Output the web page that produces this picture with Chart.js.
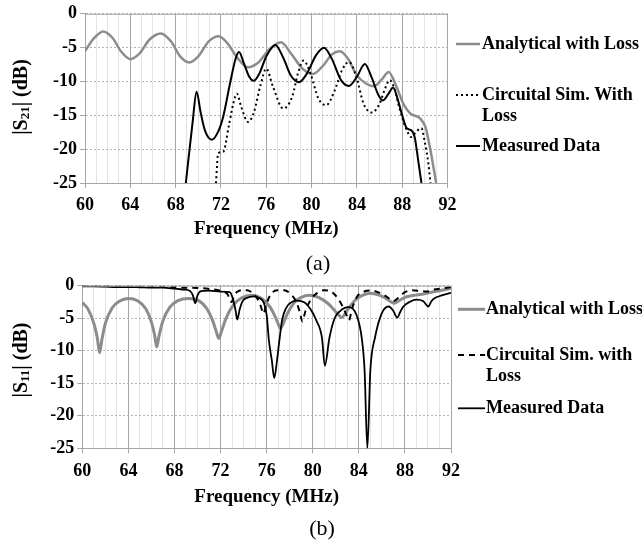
<!DOCTYPE html>
<html>
<head>
<meta charset="utf-8">
<title>|S21| and |S11| vs frequency</title>
<script src="https://cdn.jsdelivr.net/npm/chart.js@4.4.1/dist/chart.umd.min.js"></script>
<style>
  html, body { margin: 0; padding: 0; background: #ffffff; }
  body { position: relative; width: 642px; height: 540px; overflow: hidden; }
  canvas { position: absolute; left: 0; }
  #chartA { top: 0; }
  #chartB { top: 255px; }
  .caption {
    position: absolute;
    font: 22px "Liberation Serif", "Times New Roman", serif;
    color: #000;
    transform: translate(-50%, -50%);
  }
</style>
</head>
<body>
<canvas id="chartA" width="642" height="255"></canvas>
<canvas id="chartB" width="642" height="285"></canvas>
<div class="caption" style="left:318px; top:263px;">(a)</div>
<div class="caption" style="left:322px; top:528px;">(b)</div>
<script>
const SERIF = '"Liberation Serif", "Times New Roman", serif';
const GRAY = '#8c8c8c';

// tick labels
const freqTicks = [60, 64, 68, 72, 76, 80, 84, 88, 92];
const dbTicks = [0, -5, -10, -15, -20, -25];

// (a) |S21| (dB)
const s21AnalyticalFreq = [60, 60.8, 61.6, 62.4, 63.2, 64.0, 64.8, 65.7, 66.7, 67.6, 68.4, 69.2, 70.0, 70.9, 71.8, 72.6, 73.4, 74.4, 75.3, 76.3, 77.3, 78.2, 79.2, 80.1, 81.0, 81.8, 82.5, 83.2, 84.0, 84.8, 85.5, 86.2, 86.8, 87.5, 88.1, 88.7, 89.6, 90.05, 90.3, 90.6, 91.0];
const s21AnalyticalDb = [-5.5, -3.6, -2.6, -3.5, -5.6, -6.7, -5.9, -3.8, -2.9, -4.1, -6.3, -7.2, -6.3, -4.1, -3.3, -4.4, -6.4, -7.9, -7.2, -5.2, -4.2, -5.9, -8.1, -8.9, -7.7, -6.0, -5.55, -6.6, -9.1, -10.3, -10.7, -9.7, -8.6, -10.8, -13.3, -14.7, -15.5, -16.7, -18.5, -21.1, -25];

const s21CircuitFreq = [71.56, 71.76, 72.2, 72.7, 73.1, 73.4, 73.8, 74.4, 74.9, 75.5, 76.0, 76.6, 77.5, 78.3, 78.8, 79.3, 79.9, 80.6, 81.3, 82.0, 82.7, 83.3, 83.9, 84.6, 85.3, 86.0, 86.5, 86.9, 87.3, 87.8, 88.4, 88.8, 89.2, 89.7, 90.0, 90.3, 90.5];
const s21CircuitDb = [-25, -20.6, -20.4, -16.5, -13.2, -11.8, -13.8, -16.0, -14.6, -10.5, -8.1, -10.8, -14.0, -12.2, -8.8, -6.9, -8.8, -12.5, -13.5, -11.5, -8.3, -7.1, -9.0, -13.3, -14.6, -13.3, -11.0, -9.8, -11.0, -14.2, -17.2, -18.2, -17.5, -16.9, -19, -22, -25];

const s21MeasuredFreq = [68.9, 69.5, 69.85, 70.2, 70.6, 71.2, 71.7, 72.2, 72.8, 73.3, 73.6, 74.0, 74.5, 74.9, 75.4, 76.0, 76.8, 77.5, 78.2, 78.9, 79.6, 80.4, 81.1, 81.8, 82.6, 83.3, 84.0, 84.7, 85.3, 85.9, 86.3, 86.8, 87.2, 87.6, 88.0, 88.4, 88.8, 89.1, 89.4, 89.7];
const s21MeasuredDb = [-25, -16, -11.5, -14.5, -17.3, -18.6, -17.6, -15.2, -10.3, -6.6, -5.65, -7.2, -9.3, -9.9, -8.8, -6.3, -4.6, -6.5, -9.2, -10.1, -8.8, -6.1, -5.0, -6.7, -9.8, -10.65, -9.3, -7.4, -9.4, -12.0, -12.8, -11.8, -10.9, -12.6, -15.0, -16.9, -17.2, -18.2, -21.5, -25];

// (b) |S11| (dB)
const s11AnalyticalFreq = [60, 60.5, 61.0, 61.3, 61.5, 61.7, 62.0, 62.6, 63.2, 64.0, 64.8, 65.5, 66.0, 66.3, 66.46, 66.65, 67.0, 67.6, 68.3, 69.2, 70.1, 70.8, 71.3, 71.6, 71.85, 72.1, 72.5, 73.1, 73.8, 74.7, 75.6, 76.3, 76.8, 77.05, 77.2, 77.4, 77.8, 78.4, 79.0, 79.7, 80.5, 81.3, 81.9, 82.3, 82.5, 82.7, 83.1, 83.7, 84.3, 85.0, 85.7, 86.3, 86.8, 87.1, 87.4, 88.0, 88.7, 89.5, 90.3, 91.2, 92];
const s11AnalyticalDb = [-2.6, -3.6, -5.8, -8.0, -10.3, -8.3, -5.8, -3.4, -2.4, -1.95, -2.3, -3.5, -5.6, -7.8, -9.4, -7.8, -5.4, -3.3, -2.3, -1.95, -2.3, -3.5, -5.3, -6.9, -8.1, -6.9, -4.9, -3.0, -1.9, -1.45, -2.0, -3.3, -5.0, -6.1, -6.6, -6.0, -4.3, -2.6, -1.8, -1.45, -1.8, -2.7, -3.8, -4.6, -4.9, -4.6, -3.5, -2.2, -1.5, -1.15, -1.4, -1.9, -2.5, -2.7, -2.4, -1.8, -1.5, -1.3, -1.0, -0.7, -0.4];

const s11CircuitFreq = [60, 62, 64, 66, 68, 69, 70, 71, 72, 72.6, 72.95, 73.2, 73.6, 74.1, 74.7, 75.2, 75.5, 75.72, 75.95, 76.3, 76.9, 77.5, 78.2, 78.6, 78.9, 79.1, 79.35, 79.8, 80.4, 81.0, 81.6, 82.2, 82.65, 82.95, 83.15, 83.4, 83.8, 84.4, 85.1, 85.8, 86.5, 87.0, 87.4, 88.0, 88.6, 89.3, 89.9, 90.5, 91.3, 92];
const s11CircuitDb = [-0.05, -0.05, -0.1, -0.15, -0.2, -0.3, -0.35, -0.5, -0.8, -1.3, -2.5, -1.4, -0.8, -0.65, -1.0, -2.0, -3.2, -4.3, -3.0, -1.5, -0.7, -0.7, -1.5, -2.6, -4.2, -5.5, -4.0, -2.2, -1.1, -0.7, -0.9, -2.0, -3.4, -4.6, -5.3, -3.6, -1.8, -0.95, -0.75, -1.1, -1.8, -2.4, -1.9, -1.0, -0.7, -0.8, -0.9, -0.6, -0.4, -0.2];

const s11MeasuredFreq = [60, 61, 62, 63, 64, 65, 66, 67, 68, 68.8, 69.35, 69.6, 69.8, 70.0, 70.3, 71.0, 72.0, 72.8, 73.1, 73.3, 73.45, 73.65, 73.9, 74.27, 74.85, 75.35, 75.75, 76.0, 76.2, 76.45, 76.66, 76.9, 77.1, 77.35, 77.7, 78.1, 78.6, 79.3, 79.8, 80.3, 80.8, 81.05, 81.45, 81.9, 82.37, 83.1, 83.8, 84.25, 84.5, 84.74, 85.0, 85.4, 86.0, 86.6, 87.0, 87.34, 87.6, 87.87, 88.4, 89.0, 89.6, 90.03, 90.3, 90.6, 91.2, 92];
const s11MeasuredDb = [-0.1, -0.1, -0.15, -0.2, -0.2, -0.25, -0.3, -0.3, -0.45, -0.6, -0.8, -1.5, -2.7, -1.5, -0.85, -0.75, -0.9, -1.0, -2.2, -3.8, -5.2, -3.7, -2.4, -1.9, -1.65, -1.9, -2.6, -4.5, -8.5, -11.5, -14.2, -11.5, -8.5, -5.2, -3.4, -2.6, -2.3, -2.6, -3.6, -5.3, -8.0, -12.3, -8.0, -5.0, -3.9, -3.3, -4.5, -8.0, -13.0, -25, -13.0, -8.0, -4.2, -3.2, -3.9, -4.9, -4.0, -3.2, -2.5, -2.15, -2.4, -3.2, -2.4, -1.9, -1.5, -1.1];

function pts(xs, ys) {
    return xs.map((x, i) => ({ x: x, y: ys[i] }));
}

function boldFont(size) {
    return { family: SERIF, size: size, weight: 'bold' };
}

// legend at the right of the plot, drawn from the dataset styles
const sideLegend = {
    id: 'sideLegend',
    afterDraw(chart, args, opts) {
        const ctx = chart.ctx;
        ctx.save();
        ctx.font = 'bold 18px ' + SERIF;
        ctx.textBaseline = 'middle';
        ctx.fillStyle = '#000';
        opts.items.forEach(item => {
            const ds = chart.data.datasets[item.index];
            ctx.save();
            ctx.strokeStyle = ds.borderColor;
            ctx.lineWidth = ds.borderWidth;
            ctx.setLineDash(ds.borderDash || []);
            ctx.beginPath();
            ctx.moveTo(opts.lineX1, item.y);
            ctx.lineTo(opts.lineX2, item.y);
            ctx.stroke();
            ctx.restore();
            item.lines.forEach((t, k) => ctx.fillText(t, opts.textX, item.y + k * opts.lineGap));
        });
        ctx.restore();
    }
};

// rotated y title with a subscript: |S21| (dB)
const yTitle = {
    id: 'yTitle',
    afterDraw(chart, args, opts) {
        const ctx = chart.ctx;
        const big = 'bold 20px ' + SERIF;
        const small = 'bold 13px ' + SERIF;
        ctx.save();
        ctx.translate(opts.x, opts.y);
        ctx.rotate(-Math.PI / 2);
        ctx.fillStyle = '#000';
        ctx.textBaseline = 'middle';
        ctx.font = big;
        const w1 = ctx.measureText('|S').width;
        const w3 = ctx.measureText('| (dB)').width;
        ctx.font = small;
        const w2 = ctx.measureText(opts.sub).width;
        let x = -(w1 + w2 + w3) / 2;
        ctx.font = big;
        ctx.fillText('|S', x, 0);
        x += w1;
        ctx.font = small;
        ctx.fillText(opts.sub, x, 4);
        x += w2;
        ctx.font = big;
        ctx.fillText('| (dB)', x, 0);
        ctx.restore();
    }
};

// solid line along the top of the plot (the 0 dB edge)
const topEdge = {
    id: 'topEdge',
    afterDatasetsDraw(chart) {
        const { ctx, chartArea } = chart;
        ctx.save();
        ctx.strokeStyle = '#a6a6a6';
        ctx.lineWidth = 1;
        ctx.beginPath();
        ctx.moveTo(chartArea.left, chartArea.top + 0.5);
        ctx.lineTo(chartArea.right, chartArea.top + 0.5);
        ctx.stroke();
        ctx.restore();
    }
};

const isMajor = (c) => c.tick && freqTicks.includes(c.tick.value);

function makeChart(id, g, datasets, legend, sub) {
    return new Chart(document.getElementById(id), {
        type: 'line',
        data: { datasets: datasets },
        plugins: [topEdge, sideLegend, yTitle],
        options: {
            responsive: false,
            animation: false,
            events: [],
            layout: { padding: { left: 0, top: g.top, right: g.right, bottom: 0 } },
            elements: {
                point: { radius: 0 },
                line: { cubicInterpolationMode: 'monotone', fill: false }
            },
            plugins: {
                legend: { display: false },
                tooltip: { enabled: false },
                sideLegend: legend,
                yTitle: { x: 22, y: g.yTitleY, sub: sub }
            },
            scales: {
                x: {
                    type: 'linear',
                    min: 60,
                    max: 92,
                    afterFit: (s) => { s.height = g.xAxisH; },
                    ticks: {
                        stepSize: 1,
                        autoSkip: false,
                        maxRotation: 0,
                        padding: g.xTickPad,
                        color: '#000',
                        font: boldFont(18),
                        callback: (v) => freqTicks.includes(v) ? String(v) : ''
                    },
                    grid: {
                        color: (c) => isMajor(c) ? '#a6a6a6' : '#e2e2e2',
                        tickColor: (c) => isMajor(c) ? '#a6a6a6' : 'rgba(0,0,0,0)',
                        tickLength: 5
                    },
                    border: { color: '#a6a6a6' },
                    title: {
                        display: true,
                        text: 'Frequency (MHz)',
                        color: '#000',
                        font: boldFont(19),
                        padding: { top: 0, bottom: g.xTitlePad }
                    }
                },
                y: {
                    type: 'linear',
                    min: -25,
                    max: 0,
                    afterFit: (s) => { s.width = g.left; },
                    afterBuildTicks: (s) => { s.ticks = dbTicks.map(v => ({ value: v })); },
                    ticks: { padding: 3, color: '#000', font: boldFont(18) },
                    grid: { color: '#b4b4b4', tickColor: '#a6a6a6', tickLength: 5 },
                    border: { color: '#a6a6a6', dash: [2, 2] }
                }
            }
        }
    });
}

makeChart('chartA',
    { left: 85, top: 13, right: 194.5, xAxisH: 72, xTickPad: 7, xTitlePad: 15, yTitleY: 97 },
    [
        { label: 'Analytical with Loss', data: pts(s21AnalyticalFreq, s21AnalyticalDb), borderColor: GRAY, borderWidth: 2.5, order: 3 },
        { label: 'Circuital Sim. With Loss', data: pts(s21CircuitFreq, s21CircuitDb), borderColor: '#000', borderWidth: 2, borderDash: [2, 3], order: 2 },
        { label: 'Measured Data', data: pts(s21MeasuredFreq, s21MeasuredDb), borderColor: '#000', borderWidth: 2, order: 1 }
    ],
    {
        lineX1: 456, lineX2: 480, textX: 482, lineGap: 21.7,
        items: [
            { index: 0, y: 44, lines: ['Analytical with Loss'] },
            { index: 1, y: 95, lines: ['Circuital Sim. With', 'Loss'] },
            { index: 2, y: 146, lines: ['Measured Data'] }
        ]
    },
    '21'
);

makeChart('chartB',
    { left: 82.3, top: 30.7, right: 191, xAxisH: 91.7, xTickPad: 7, xTitlePad: 32, yTitleY: 105 },
    [
        { label: 'Analytical with Loss', data: pts(s11AnalyticalFreq, s11AnalyticalDb), borderColor: GRAY, borderWidth: 3, order: 3 },
        { label: 'Circuital Sim. with Loss', data: pts(s11CircuitFreq, s11CircuitDb), borderColor: '#000', borderWidth: 2, borderDash: [6, 5], order: 2 },
        { label: 'Measured Data', data: pts(s11MeasuredFreq, s11MeasuredDb), borderColor: '#000', borderWidth: 1.8, order: 1 }
    ],
    {
        lineX1: 458, lineX2: 485, textX: 486, lineGap: 21.7,
        items: [
            { index: 0, y: 54.3, lines: ['Analytical with Loss'] },
            { index: 1, y: 100, lines: ['Circuital Sim. with', 'Loss'] },
            { index: 2, y: 153.3, lines: ['Measured Data'] }
        ]
    },
    '11'
);
</script>
</body>
</html>
